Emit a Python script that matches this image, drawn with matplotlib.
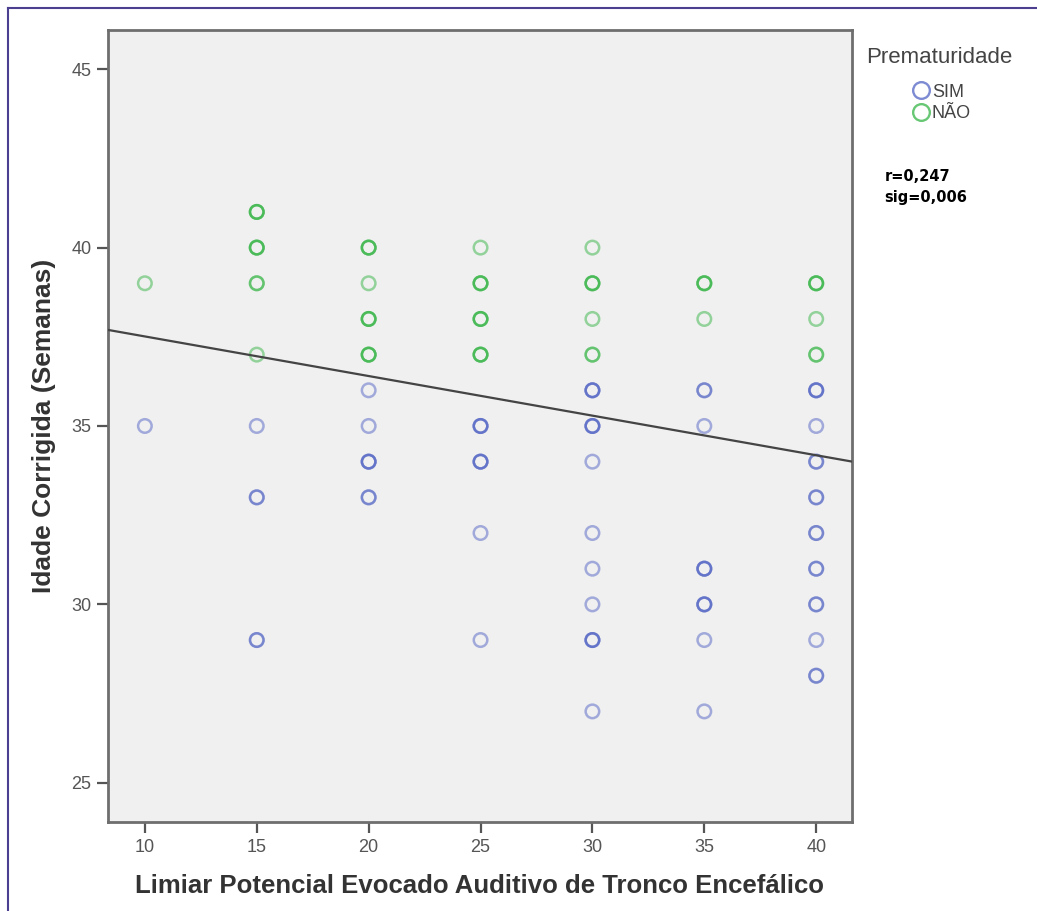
import numpy as np
import matplotlib
matplotlib.use("Agg")
import matplotlib.pyplot as plt
from matplotlib.lines import Line2D

# points; n = how many cases overlap at that spot
sim_x = [10, 15, 15, 15, 20, 20, 20, 20, 25, 25, 25, 25,
         30, 30, 30, 30, 30, 30, 30, 30,
         35, 35, 35, 35, 35, 35,
         40, 40, 40, 40, 40, 40, 40, 40, 40]
sim_y = [35, 35, 33, 29, 36, 35, 34, 33, 35, 34, 32, 29,
         36, 35, 34, 32, 31, 30, 29, 27,
         36, 35, 31, 30, 29, 27,
         36, 35, 34, 33, 32, 31, 30, 29, 28]
sim_n = [1, 1, 2, 2, 1, 1, 3, 2, 3, 3, 1, 1,
         3, 3, 1, 1, 1, 1, 3, 1,
         2, 1, 3, 3, 1, 1,
         3, 1, 2, 2, 2, 2, 2, 1, 2]

nao_x = [10, 15, 15, 15, 15, 20, 20, 20, 20, 25, 25, 25, 25,
         30, 30, 30, 30, 35, 35, 40, 40, 40]
nao_y = [39, 41, 40, 39, 37, 40, 39, 38, 37, 40, 39, 38, 37,
         40, 39, 38, 37, 39, 38, 39, 38, 37]
nao_n = [1, 3, 3, 2, 1, 3, 1, 3, 3, 1, 3, 3, 3,
         1, 3, 1, 2, 3, 1, 3, 1, 2]

# fit line
fit_intercept = 38.62
fit_slope = -0.111

r_text = "r=0,247\nsig=0,006"

blue = "#5264c4"
green = "#35b545"
font = "Liberation Sans"

fig = plt.figure(figsize=(10.37, 9.11), dpi=100)
ax = fig.add_axes([0.1041, 0.0977, 0.7175, 0.8694])
ax.set_facecolor("#f0f0f0")

def draw(xs, ys, ns, color, label):
    px = np.repeat(xs, ns)
    py = np.repeat(ys, ns)
    ax.scatter(px, py, s=95, facecolors="none", edgecolors=color,
               linewidths=1.8, alpha=0.5, zorder=3)
    return Line2D([], [], marker="o", linestyle="none", markersize=12,
                  markerfacecolor="none", markeredgecolor=color,
                  markeredgewidth=1.7, alpha=0.75, label=label)

h1 = draw(sim_x, sim_y, sim_n, blue, "SIM")
h2 = draw(nao_x, nao_y, nao_n, green, "NÃO")

xmin, xmax = 8.35, 41.6
xx = np.array([xmin, xmax])
ax.plot(xx, fit_intercept + fit_slope * xx, color="#444444", lw=1.6, zorder=4)

ax.set_xlim(xmin, xmax)
ax.set_ylim(23.9, 46.1)
ax.set_xticks([10, 15, 20, 25, 30, 35, 40])
ax.set_yticks([25, 30, 35, 40, 45])

for s in ax.spines.values():
    s.set_color("#6e6e6e")
    s.set_linewidth(2)
ax.tick_params(direction="out", length=8, width=1.6, color="#555555",
               labelsize=13, labelcolor="#555555", pad=4)
for t in ax.get_xticklabels() + ax.get_yticklabels():
    t.set_fontfamily(font)

ax.set_xlabel("Limiar Potencial Evocado Auditivo de Tronco Encefálico",
              fontsize=18.5, fontweight="bold", color="#333333",
              family=font, labelpad=13)
ax.set_ylabel("Idade Corrigida (Semanas)", fontsize=19, fontweight="bold",
              color="#333333", family=font, labelpad=11)

fig.text(0.835, 0.937, "Prematuridade", fontsize=16, color="#444444",
         family=font, va="center")
leg = fig.legend(handles=[h1, h2], loc="upper left",
                 bbox_to_anchor=(0.868, 0.92), frameon=False,
                 prop={"family": font, "size": 13},
                 handletextpad=0.05, labelspacing=0.25, borderpad=0.1,
                 handlelength=1.1)
for t in leg.get_texts():
    t.set_color("#444444")

fig.text(0.853, 0.815, r_text, fontsize=10.5, fontweight="bold",
         family="DejaVu Sans", va="top", linespacing=1.55)

# thin frame around the figure (top and left edges)
fig.add_artist(Line2D([0.0078, 1.0], [0.9912, 0.9912], color="#4b3f8f", lw=1.5))
fig.add_artist(Line2D([0.0078, 0.0078], [0.0, 0.9912], color="#4b3f8f", lw=1.5))

fig.savefig("out.png", dpi=100)
